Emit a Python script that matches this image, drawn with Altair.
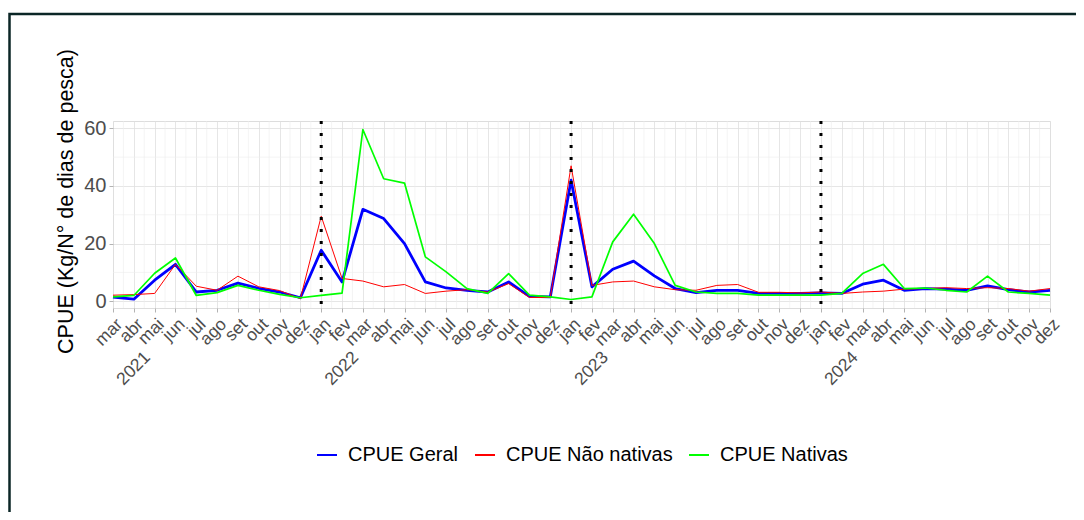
import altair as alt
import pandas as pd

# ---------------- data ----------------
months = ["mar", "abr", "mai", "jun", "jul", "ago", "set", "out", "nov", "dez",
          "jan", "fev", "mar", "abr", "mai", "jun", "jul", "ago", "set", "out", "nov", "dez",
          "jan", "fev", "mar", "abr", "mai", "jun", "jul", "ago", "set", "out", "nov", "dez",
          "jan", "fev", "mar", "abr", "mai", "jun", "jul", "ago", "set", "out", "nov", "dez"]

geral = [1.4, 0.7, 7.3, 12.8, 3.2, 3.8, 6.3, 4.5, 3.2, 1.2,
         17.7, 6.7, 31.9, 28.7, 20.0, 6.7, 4.6, 3.8, 3.2, 6.7, 1.7, 1.5,
         42.0, 5.0, 11.1, 13.9, 8.8, 4.4, 3.0, 3.8, 3.8, 2.7, 2.7, 2.7,
         2.9, 2.7, 5.9, 7.3, 3.8, 4.4, 4.2, 3.8, 5.3, 4.0, 3.2, 3.8]

nao_nativas = [2.1, 2.3, 2.7, 12.8, 5.2, 3.8, 8.7, 5.0, 3.7, 0.9,
               29.5, 7.9, 7.0, 5.0, 5.8, 2.7, 3.5, 4.0, 3.2, 6.1, 1.3, 1.3,
               47.0, 5.5, 6.7, 7.0, 5.0, 4.0, 3.8, 5.5, 5.8, 3.1, 3.1, 2.9,
               3.2, 2.7, 3.2, 3.5, 4.2, 4.4, 4.7, 4.4, 4.7, 4.4, 3.5, 4.4]

nativas = [1.5, 2.0, 9.7, 15.0, 2.0, 3.0, 5.5, 3.8, 2.4, 1.2,
           2.0, 2.8, 59.6, 42.5, 41.0, 15.4, 10.2, 4.4, 2.7, 9.6, 2.1, 1.5,
           0.6, 1.5, 20.6, 30.2, 20.0, 5.5, 3.2, 2.7, 2.7, 2.1, 2.1, 2.1,
           2.1, 2.7, 9.6, 12.8, 4.4, 4.6, 3.8, 3.2, 8.7, 3.2, 2.7, 2.1]

series_names = ["CPUE Geral", "CPUE Não nativas", "CPUE Nativas"]
series_colors = ["#0000FF", "#FF0000", "#00FF00"]
series_widths = [2.8, 1.0, 1.7]

year_ticks = [2, 12, 24, 36]
year_labels = ["2021", "2022", "2023", "2024"]

y_tick_values = [0, 20, 40, 60]
y_minor_values = [10, 30, 50]

# ---------------- tables ----------------
n = len(months)
rows = []
for name, vals, sw in zip(series_names, [geral, nao_nativas, nativas], series_widths):
    for i, v in enumerate(vals):
        rows.append({"t": i, "series": name, "value": v, "sw": sw})
df = pd.DataFrame(rows)

vline_df = pd.DataFrame({"t": [i for i, m in enumerate(months) if m == "jan"]})
year_df = pd.DataFrame({"t": year_ticks})
minor_x_df = pd.DataFrame({"t": [i + 0.5 for i in range(n - 1)]})
minor_y_df = pd.DataFrame({"value": y_minor_values})
frame_df = pd.DataFrame({"a": [0]})

allv = geral + nao_nativas + nativas
lo, hi = min(allv), max(allv)
pad = 0.05 * (hi - lo)

W, H = 937, 187
PL, PT, PR, PB = 105, 113, 26, 204
FONT = "Liberation Sans"

x_scale = alt.Scale(domain=[0, n - 1], nice=False, zero=False)
y_scale = alt.Scale(domain=[lo - pad, hi + pad], nice=False, zero=False)

month_expr = "[" + ",".join("'%s'" % m for m in months) + "][datum.value]"
year_arr = ["" for _ in range(n)]
for i, lab in zip(year_ticks, year_labels):
    year_arr[i] = lab
year_expr = "[" + ",".join("'%s'" % y for y in year_arr) + "][datum.value]"

y_axis = alt.Axis(values=y_tick_values, labelFontSize=20, labelColor="#4d4d4d",
                  labelFont=FONT, labelPadding=3, tickColor="#b3b3b3", tickSize=4,
                  domain=False, grid=True, gridColor="#e0e0e0", gridWidth=0.8,
                  title="CPUE (Kg/N° de dias de pesca)", titleFont=FONT,
                  titleFontSize=21.5, titleFontWeight="normal", titleColor="black",
                  titlePadding=6, titleY=80, orient="left")

minor_x = alt.Chart(minor_x_df).mark_rule(color="#ececec", strokeWidth=0.6).encode(
    x=alt.X("t:Q", scale=x_scale, axis=None)
)
minor_y = alt.Chart(minor_y_df).mark_rule(color="#ececec", strokeWidth=0.6).encode(
    y=alt.Y("value:Q", scale=y_scale, axis=y_axis)
)

lines = alt.Chart(df).mark_line(strokeJoin="round").encode(
    x=alt.X("t:Q", scale=x_scale,
            axis=alt.Axis(values=list(range(n)), labelExpr=month_expr, labelAngle=-45,
                          labelFontSize=17.5, labelColor="#4d4d4d", labelFont=FONT,
                          labelPadding=3, labelOverlap=False, labelFlush=False,
                          tickColor="#b3b3b3", tickSize=4, domain=False,
                          grid=True, gridColor="#e0e0e0", gridWidth=0.8, title=None,
                          orient="bottom")),
    y=alt.Y("value:Q", scale=y_scale, axis=y_axis),
    color=alt.Color("series:N", scale=alt.Scale(domain=series_names, range=series_colors),
                    legend=alt.Legend(title=None, orient="none", direction="horizontal",
                                      legendX=203, legendY=323, symbolType="stroke",
                                      symbolSize=400, symbolStrokeWidth=2,
                                      labelFontSize=20, labelColor="black", labelLimit=400,
                                      labelFont=FONT, columnPadding=12, labelOffset=10)),
    strokeWidth=alt.StrokeWidth("sw:Q", scale=None, legend=None),
    detail="series:N",
    order=alt.Order("t:Q"),
)

vlines = alt.Chart(vline_df).mark_rule(color="black", strokeDash=[3, 9],
                                       strokeWidth=3).encode(
    x=alt.X("t:Q", scale=x_scale, axis=None)
)

years = alt.Chart(year_df).mark_point(opacity=0).encode(
    x=alt.X("t:Q", scale=x_scale,
            axis=alt.Axis(orient="bottom", values=year_ticks, labelExpr=year_expr,
                          labelAngle=-45, labelFontSize=17.5, labelColor="#4d4d4d",
                          labelFont=FONT, labelPadding=40, labelOffset=-14,
                          labelOverlap=False, labelFlush=False, ticks=False,
                          domain=False, grid=False, title=None))
)

frame = alt.Chart(frame_df).mark_rect(filled=False, stroke="#0b2626", strokeWidth=2.5).encode(
    x=alt.value(-PL + 1.5), y=alt.value(-PT + 6),
    x2=alt.value(W + PR + 10), y2=alt.value(H + PB + 10)
)

chart = alt.layer(minor_x, minor_y, lines, vlines, years, frame).resolve_scale(
    x="shared", y="shared"
).resolve_axis(x="independent", y="shared").properties(
    width=W, height=H,
    padding={"left": PL, "top": PT, "right": PR, "bottom": PB},
    autosize=alt.AutoSizeParams(type="none"),
).configure_view(stroke="#b3b3b3", strokeWidth=1).configure(background="white")

chart.save("out.html", embed_options={"renderer": "svg", "actions": False})
